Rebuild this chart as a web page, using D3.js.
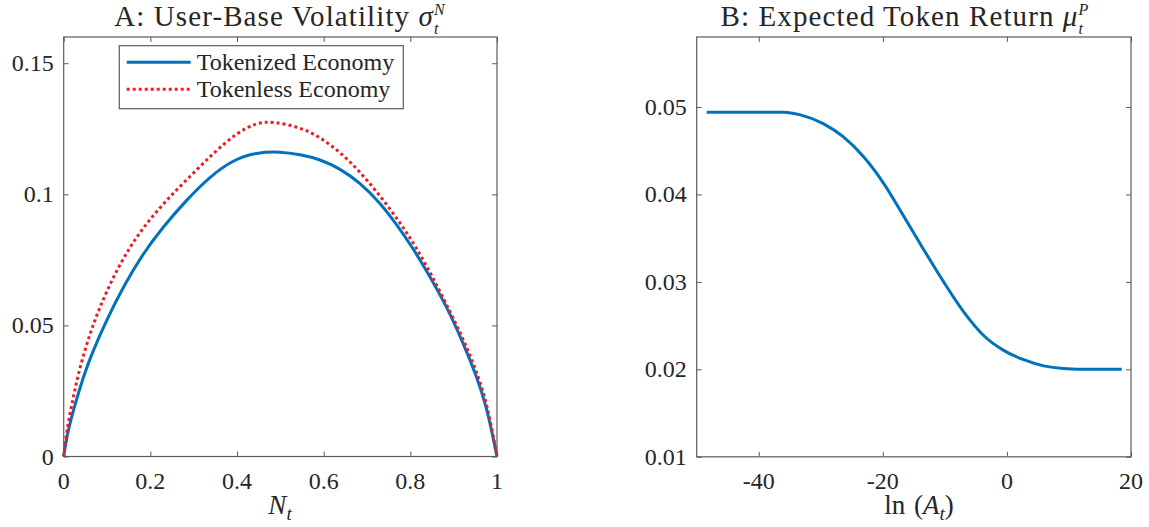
<!DOCTYPE html>
<html><head><meta charset="utf-8">
<script src="https://cdn.jsdelivr.net/npm/d3@7"></script>
<style>body{margin:0;background:#fff}svg{display:block}</style>
</head><body><svg id="c" width="1149" height="527" font-family="Liberation Serif, serif"></svg>
<script>
// ---- Data ----
const tokenizedN   = [0, 0.0069, 0.0222, 0.0452, 0.0683, 0.0992, 0.1376, 0.1837, 0.2299, 0.2838, 0.3376, 0.3914, 0.4454, 0.4992, 0.5455, 0.5915, 0.6377, 0.6838, 0.730, 0.7685, 0.8068, 0.8454, 0.8839, 0.9222, 0.9531, 0.9762, 1.0];
const tokenizedSig = [0, 0.0076, 0.0177, 0.0305, 0.0406, 0.0521, 0.0648, 0.0776, 0.0877, 0.0979, 0.1068, 0.1132, 0.1160, 0.1163, 0.1152, 0.1134, 0.1098, 0.1045, 0.0968, 0.0885, 0.0793, 0.0686, 0.0572, 0.0432, 0.0305, 0.0190, 0];
const tokenlessN   = [0, 0.0069, 0.0222, 0.0376, 0.0607, 0.0838, 0.1145, 0.1530, 0.1914, 0.2376, 0.2914, 0.3453, 0.3991, 0.4454, 0.4838, 0.5455, 0.5915, 0.6377, 0.6838, 0.730, 0.7762, 0.8147, 0.853, 0.8915, 0.926, 0.9568, 0.9785, 1.0];
const tokenlessSig = [0, 0.0101, 0.0228, 0.0343, 0.0470, 0.0572, 0.0686, 0.0801, 0.0890, 0.0979, 0.1068, 0.1157, 0.1234, 0.1274, 0.1278, 0.1256, 0.1218, 0.1162, 0.1086, 0.0995, 0.0893, 0.0795, 0.0680, 0.0553, 0.0435, 0.0307, 0.0192, 0];
const lnA  = [-48.4, -36.0, -33.3, -29.6, -26.4, -23.1, -19.9, -16.7, -13.5, -10.2, -7.0, -3.8, -0.6, 2.7, 5.9, 9.1, 13.4, 18.5];
const muP  = [0.0494, 0.0494, 0.0491, 0.0481, 0.0466, 0.0443, 0.0413, 0.0376, 0.0338, 0.0300, 0.0266, 0.0239, 0.0222, 0.0211, 0.0204, 0.0201, 0.0200, 0.0200];
const aXTicks = [0, 0.2, 0.4, 0.6, 0.8, 1];
const aXLabels = ["0", "0.2", "0.4", "0.6", "0.8", "1"];
const aYTicks = [0, 0.05, 0.1, 0.15];
const aYLabels = ["0", "0.05", "0.1", "0.15"];
const bXTicks = [-40, -20, 0, 20];
const bXLabels = ["-40", "-20", "0", "20"];
const bYTicks = [0.01, 0.02, 0.03, 0.04, 0.05];
const bYLabels = ["0.01", "0.02", "0.03", "0.04", "0.05"];
const legendLabels = ["Tokenized Economy", "Tokenless Economy"];

const svg = d3.select("#c");
const FONT = "Liberation Serif, serif";
const BLUE = "#0072BD", RED = "#ec1c24", AX = "#5a5a5a", TXT = "#262626";

function mathText(g, x, y, size, segs, opts) {
  opts = opts || {};
  const t = g.append("text").attr("x", x).attr("y", y).attr("font-size", size).attr("text-anchor", "middle")
    .attr("font-family", FONT).attr("fill", TXT);
  if (opts.ls) t.attr("letter-spacing", opts.ls);
  const ss = opts.ss || 0.62, subDy = opts.subDy || size * 0.24, supDy = opts.supDy || size * 0.46;
  let prevSubLen = 0;
  segs.forEach(s => {
    const sp = t.append("tspan").text(s.t);
    if (s.i) sp.attr("font-style", "italic");
    if (s.sub) { sp.attr("font-size", size * ss).attr("dy", subDy); }
    else if (s.sup) { sp.attr("font-size", size * ss).attr("dy", -supDy).attr("dx", -prevSubLen); }
    else if (s.after) { sp.attr("dy", s.after); }
    if (s.sub) prevSubLen = sp.node().getComputedTextLength();
    if (s.dx) sp.attr("dx", s.dx);
  });
  return t;
}

function panel(opts) {
  const x = d3.scaleLinear().domain(opts.xd).range([opts.x0, opts.x1]);
  const y = d3.scaleLinear().domain(opts.yd).range([opts.y0, opts.y1]);
  const g = svg.append("g");
  const tl = 5;
  const axB = d3.axisBottom(x).tickValues(opts.xt).tickSize(-tl).tickFormat("");
  const axT = d3.axisTop(x).tickValues(opts.xt).tickSize(-tl).tickFormat("");
  const axL = d3.axisLeft(y).tickValues(opts.yt).tickSize(-tl).tickFormat("");
  const axR = d3.axisRight(y).tickValues(opts.yt).tickSize(-tl).tickFormat("");
  [[axB, `translate(0,${opts.y0})`], [axT, `translate(0,${opts.y1})`], [axL, `translate(${opts.x0},0)`], [axR, `translate(${opts.x1},0)`]].forEach(([a, tr]) => {
    const ag = g.append("g").attr("transform", tr).call(a);
    ag.select(".domain").remove();
    ag.selectAll("text").remove();
    ag.selectAll("line").attr("stroke", AX).attr("stroke-width", 1);
  });
  g.append("rect").attr("x", opts.x0).attr("y", opts.y1).attr("width", opts.x1 - opts.x0).attr("height", opts.y0 - opts.y1)
    .attr("fill", "none").attr("stroke", AX).attr("stroke-width", 1.2);
  g.selectAll(".xl").data(opts.xt).enter().append("text").attr("x", d => x(d)).attr("y", opts.y0 + 32)
    .attr("text-anchor", "middle").attr("font-size", 24).attr("font-family", FONT).attr("fill", TXT).text((d, i) => opts.xl[i]);
  g.selectAll(".yl").data(opts.yt).enter().append("text").attr("x", opts.x0 - 10).attr("y", d => y(d) + 8)
    .attr("text-anchor", "end").attr("font-size", 24).attr("font-family", FONT).attr("fill", TXT).text((d, i) => opts.yl[i]);
  return { g, x, y };
}

// ---- Panel A ----
const A = panel({ xd: [0, 1], yd: [0, 0.16], x0: 63.7, x1: 497, y0: 456.5, y1: 37, xt: aXTicks, xl: aXLabels, yt: aYTicks, yl: aYLabels });
const lineA = (xs, ys) => d3.line().x((d, i) => A.x(xs[i])).y((d, i) => A.y(ys[i])).curve(d3.curveBasis)(xs);
A.g.append("path").attr("d", lineA(tokenizedN, tokenizedSig)).attr("fill", "none").attr("stroke", BLUE).attr("stroke-width", 3);
A.g.append("path").attr("d", lineA(tokenlessN, tokenlessSig)).attr("fill", "none").attr("stroke", RED).attr("stroke-width", 3).attr("stroke-dasharray", "3,3");
const titleOpts = { ls: 1.1, ss: 0.552, subDy: 8, supDy: 18.5 };
mathText(A.g, 280, 25.5, 29, [{ t: "A: User-Base Volatility " }, { t: "σ", i: 1 }, { t: "t", i: 1, sub: 1 }, { t: "N", i: 1, sup: 1 }], titleOpts);
mathText(A.g, 280, 514, 27, [{ t: "N", i: 1 }, { t: "t", i: 1, sub: 1 }], { ss: 0.7, subDy: 6 });
// legend
const lg = A.g.append("g");
lg.append("rect").attr("x", 119.3).attr("y", 45.7).attr("width", 284).attr("height", 63).attr("fill", "#fff").attr("stroke", AX).attr("stroke-width", 1.2);
[[BLUE, null, 62.3], [RED, "3,3", 89.3]].forEach(([c, da, yy], i) => {
  const l = lg.append("line").attr("x1", 126.7).attr("x2", 190.7).attr("y1", yy).attr("y2", yy).attr("stroke", c).attr("stroke-width", 3);
  if (da) l.attr("stroke-dasharray", da);
  lg.append("text").attr("x", 196.7).attr("y", yy + 7.5).attr("font-size", 24).attr("font-family", FONT).attr("fill", TXT).text(legendLabels[i]);
});

// ---- Panel B ----
const B = panel({ xd: [-50, 20], yd: [0.01, 0.058], x0: 696.7, x1: 1131, y0: 456.8, y1: 37, xt: bXTicks, xl: bXLabels, yt: bYTicks, yl: bYLabels });
B.g.append("path").attr("d", d3.line().x((d, i) => B.x(lnA[i])).y((d, i) => B.y(muP[i])).curve(d3.curveMonotoneX)(lnA))
  .attr("fill", "none").attr("stroke", BLUE).attr("stroke-width", 3);
mathText(B.g, 905, 25.5, 29, [{ t: "B: Expected Token Return " }, { t: "μ", i: 1 }, { t: "t", i: 1, sub: 1 }, { t: "P", i: 1, sup: 1 }], titleOpts);
mathText(B.g, 919, 514, 27, [{ t: "ln" }, { t: " (", dx: 2 }, { t: "A", i: 1 }, { t: "t", i: 1, sub: 1 }, { t: ")", after: -6 }], { ss: 0.7, subDy: 6 });
</script></body></html>
